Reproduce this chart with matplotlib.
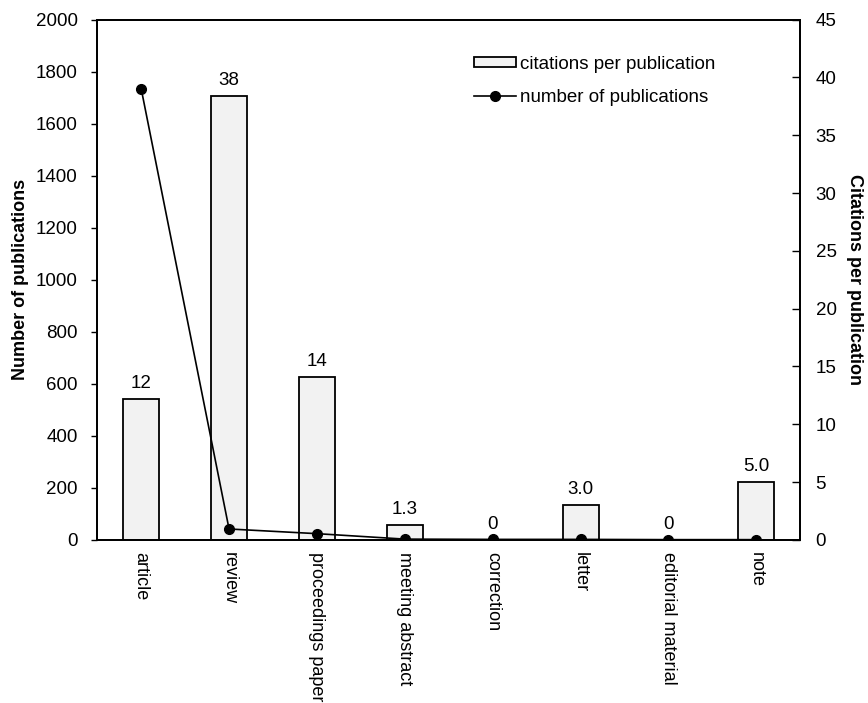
import matplotlib
matplotlib.use("Agg")
import matplotlib.pyplot as plt
import numpy as np

plt.rcParams['font.family'] = ['Liberation Sans', 'DejaVu Sans']

categories = ["article", "review", "proceedings paper", "meeting abstract",
              "correction", "letter", "editorial material", "note"]
n_publications = [1735, 42, 24, 3, 2, 2, 1, 1]
citations_per_pub = [12.2, 38.4, 14.1, 1.33, 0, 3.0, 0, 5.0]
bar_labels = ["12", "38", "14", "1.3", "0", "3.0", "0", "5.0"]

FS = 13.5   # horizontal text
FSR = 13    # rotated text

x = np.arange(len(categories))

fig = plt.figure(figsize=(8.68, 7.03), dpi=100)
ax = fig.add_axes([0.112, 0.232, 0.81, 0.74])
ax2 = ax.twinx()

# bars on the right axis, line on the left axis drawn above them
bars = ax2.bar(x, citations_per_pub, width=0.41, color='#f2f2f2',
               edgecolor='black', linewidth=1.3)
for xi, v, t in zip(x, citations_per_pub, bar_labels):
    ax2.annotate(t, (xi, v), xytext=(0, 5), textcoords='offset points',
                 ha='center', va='bottom', fontsize=FS)

line, = ax.plot(x, n_publications, color='black', linewidth=1.2, marker='o',
                markersize=7)
ax.set_zorder(ax2.get_zorder() + 1)
ax.patch.set_visible(False)

ax.set_xlim(-0.5, 7.5)
ax.set_ylim(0, 2000)
ax.set_yticks(np.arange(0, 2001, 200))
ax2.set_ylim(0, 45)
ax2.set_yticks(np.arange(0, 46, 5))

ax.set_xticks(x)
ax.set_xticklabels(categories, rotation=270, fontsize=FSR)
ax.tick_params(axis='x', length=0, pad=9)
ax.tick_params(axis='y', direction='out', length=4, width=1, labelsize=FS, pad=10)
ax2.tick_params(axis='y', direction='in', length=6, width=1, labelsize=FS, pad=11)

for a in (ax, ax2):
    for s in a.spines.values():
        s.set_linewidth(1.3)

ax.set_ylabel("Number of publications", fontsize=FSR, fontweight='bold', labelpad=5)
ax2.set_ylabel("Citations per publication", fontsize=FSR, fontweight='bold',
               rotation=270, labelpad=19)

fig.legend([bars, line], ['citations per publication', 'number of publications'],
           loc='upper left', bbox_to_anchor=(474 / 868, 1 - 56 / 703),
           bbox_transform=fig.transFigure, frameon=False, borderpad=0,
           borderaxespad=0, fontsize=FS, handlelength=2.25, handleheight=0.45,
           handletextpad=0.2, labelspacing=0.85)

fig.savefig("out.png", dpi=100)
